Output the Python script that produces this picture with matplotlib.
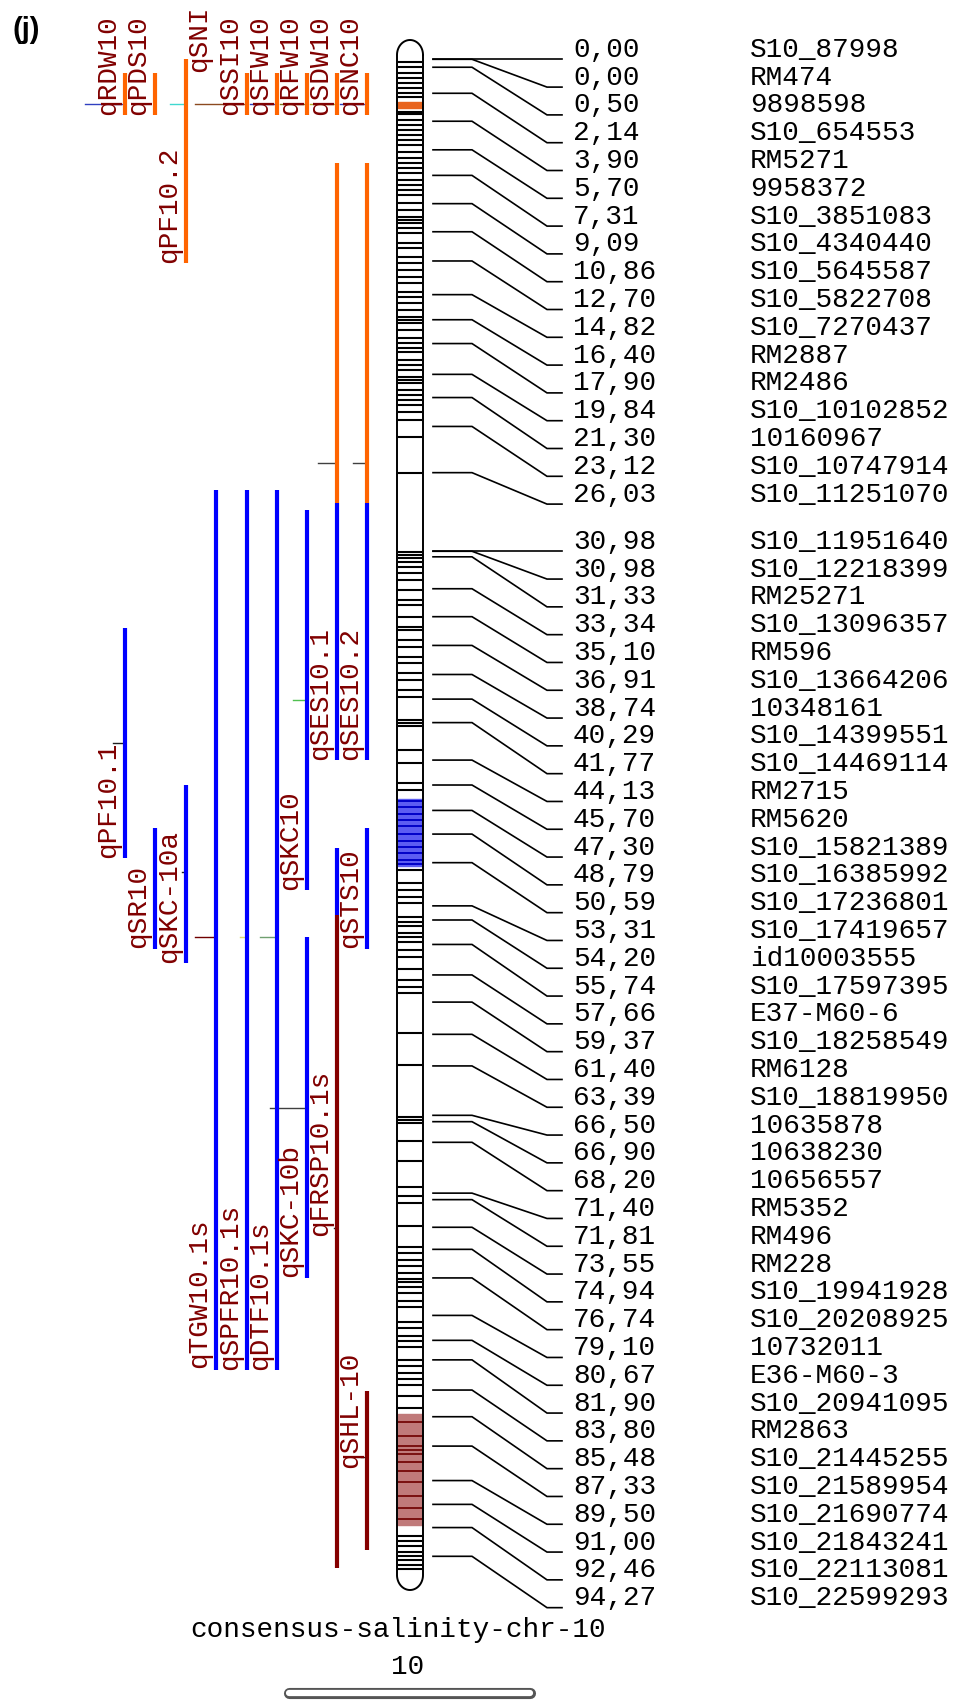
import matplotlib
matplotlib.use("Agg")
import matplotlib.pyplot as plt
import numpy as np

# ---- marker map (cM) ----
marker_cm = [0.00, 0.00, 0.50, 2.14, 3.90, 5.70, 7.31, 9.09, 10.86, 12.70,
             14.82, 16.40, 17.90, 19.84, 21.30, 23.12, 26.03, 30.98, 30.98, 31.33,
             33.34, 35.10, 36.91, 38.74, 40.29, 41.77, 44.13, 45.70, 47.30, 48.79,
             50.59, 53.31, 54.20, 55.74, 57.66, 59.37, 61.40, 63.39, 66.50, 66.90,
             68.20, 71.40, 71.81, 73.55, 74.94, 76.74, 79.10, 80.67, 81.90, 83.80,
             85.48, 87.33, 89.50, 91.00, 92.46, 94.27]
marker_names = ["S10_87998", "RM474", "9898598", "S10_654553", "RM5271", "9958372",
                "S10_3851083", "S10_4340440", "S10_5645587", "S10_5822708", "S10_7270437",
                "RM2887", "RM2486", "S10_10102852", "10160967", "S10_10747914",
                "S10_11251070", "S10_11951640", "S10_12218399", "RM25271", "S10_13096357",
                "RM596", "S10_13664206", "10348161", "S10_14399551", "S10_14469114",
                "RM2715", "RM5620", "S10_15821389", "S10_16385992", "S10_17236801",
                "S10_17419657", "id10003555", "S10_17597395", "E37-M60-6", "S10_18258549",
                "RM6128", "S10_18819950", "10635878", "10638230", "10656557", "RM5352",
                "RM496", "RM228", "S10_19941928", "S10_20208925", "10732011", "E36-M60-3",
                "S10_20941095", "RM2863", "S10_21445255", "S10_21589954", "S10_21690774",
                "S10_21843241", "S10_22113081", "S10_22599293"]

# ---- chromosome bands (cM) ----
band_cm = [0.15, 0.46, 0.88, 1.19, 1.51, 1.83, 2.14, 2.35, 3.3, 3.45, 3.82, 4.14, 4.45,
           4.77, 5.08, 5.4, 5.82, 6.23, 6.55, 6.87, 7.19, 7.6, 7.92, 8.23, 8.55, 9.07,
           9.49, 9.9, 10.1, 10.3, 10.64, 10.96, 11.59, 11.9, 12.43, 12.85, 13.27, 13.69,
           14.1, 14.63, 14.95, 15.37, 15.79, 16.2, 16.4, 16.6,
           17.05, 17.55, 17.87, 18.18, 18.43, 18.94, 19.25, 19.57, 20.01, 20.2, 20.39,
           20.83, 21.14, 21.46, 21.78, 22.22, 22.72, 23.79, 26.05,
           31.03, 31.22, 31.41, 31.66, 31.97, 32.35, 32.79, 33.42, 34.05, 34.37, 35.12,
           35.75, 35.94, 36.57, 37.01, 37.64, 38.01, 38.64, 39.08, 39.71, 40.15,
           41.6, 41.8, 42.0, 43.5, 44.3, 45.6, 46.0,
           51.05, 51.9, 52.3, 52.75, 53.1, 54.0, 54.3, 54.6, 55.0, 55.3, 55.6, 56.1,
           56.5, 57.3, 57.98, 58.4, 58.8,
           61.3, 63.3, 66.6, 66.8, 67.0, 68.1, 69.4, 71.0, 71.6, 72.0, 73.5, 74.8, 75.2,
           75.6, 76.0, 76.4, 76.8, 77.0, 77.3, 77.7, 78.2, 78.6, 79.5, 79.9, 80.4, 80.7,
           81.1, 81.9, 82.3, 82.7, 83.1, 83.5, 84.2, 84.9,
           93.0, 93.3, 93.6, 94.0, 94.27, 94.5, 94.8, 95.1]
orange_zone = (2.67, 3.09)
blue_zone = (46.6, 50.8)
blue_lines = [46.7, 47.1, 47.5, 47.9, 48.3, 48.8, 49.2, 49.6, 50.0, 50.4, 50.7]
red_zone = (85.3, 92.3)
red_lines = [85.8, 86.7, 87.3, 87.6, 87.8, 88.3, 88.9, 89.6, 90.5, 91.2, 91.9]

# ---- QTL intervals ----
qtl_names = ["qRDW10", "qPDS10", "qPF10.2", "qSSI10", "qSFW10", "qRFW10", "qSDW10",
             "qSNC10", "", "", "qSES10.1", "qSES10.2", "qTGW10.1s", "qSPFR10.1s",
             "qDTF10.1s", "qSKC10", "qSKC-10b", "qSTS10", "", "qFRSP10.1s", "qSHL-10",
             "qPF10.1", "qSR10", "qSKC-10a"]
qtl_col = [0, 1, 2, 4, 5, 6, 7, 8, 7, 8, 7, 8, 3, 4, 5, 6, 6, 8, 7, 7, 8, 0, 1, 2]
qtl_start = [0.86, 0.86, 0.0, 0.86, 0.86, 0.86, 0.86, 0.86, 6.54, 6.54, 27.94, 27.94,
             27.13, 27.13, 27.13, 28.38, 55.27, 48.41, 49.67, 53.88, 83.87, 35.81,
             48.41, 45.70]
qtl_end = [3.51, 3.51, 12.83, 3.51, 3.51, 3.51, 3.51, 3.51, 27.94, 27.94, 44.13, 44.13,
           82.54, 82.54, 82.54, 52.31, 76.74, 56.0, 53.88, 95.0, 93.87, 50.30, 56.0, 56.9]
qtl_kind = ["o", "o", "o", "o", "o", "o", "o", "o", "o", "o", "b", "b", "b", "b", "b",
            "b", "b", "b", "b", "r", "r", "b", "b", "b"]
qtl_label_end = [3.51, 3.51, 12.83, 3.51, 3.51, 3.51, 3.51, 3.51, None, None, 44.13,
                 44.13, 82.4, 82.54, 82.54, 52.31, 76.7, 55.96, None, 74.1, 88.7,
                 50.30, 55.96, 56.9]
qtl_peak = [2.82, None, 2.82, 2.82, 2.82, 2.82, 2.82, 2.82, 25.4, 25.4, None, None,
            55.27, 55.27, 55.27, 40.35, 66.04, None, None, 73.6, 88.0, 43.05, None, 51.2]
extra_label = ("qSNI", 3, 0.8)

# ---- layout / style ----
PX_CM = 15.88
Y0 = 59.3
col_x = [125, 155, 186, 216, 247, 277, 307, 337, 367]
kind_color = {"o": "#ff6400", "b": "#0000ff", "r": "#850000"}
peak_color = ["#3040c0", None, "#40d8d0", "#8b4a20", "#3040c0", "#808020", "#b0b030",
              "#3040c0", "#404040", "#404040", None, None, "#700000", "#e0e070",
              "#70a070", "#50c050", "#404040", None, None, "#202020", "#202020",
              "#202020", None, "#202020"]
peak_len = [40, 0, 16, 52, 27, 27, 27, 27, 19, 14, 0, 0, 21, 7, 17, 14, 37, 0, 0, 3,
            6, 12, 0, 4]
label_col = "#800000"
mono = "Liberation Mono"
fs = 20


def cm(ypx):
    return (ypx - Y0) / PX_CM


fig = plt.figure(figsize=(9.65, 17.03), dpi=100)
ax = fig.add_axes([0, 0, 1, 1])
ax.set_xlim(0, 965)
ax.set_ylim(cm(1703), cm(0))
ax.axis("off")

# chromosome body
cx, r = 410, 13
t = np.linspace(0, np.pi, 40)
xs = np.concatenate([cx + r * np.cos(t), [397, 397], cx - r * np.cos(t), [423, 423]])
ys = np.concatenate([cm(55 - 15 * np.sin(t)), [cm(55), cm(1575)],
                     cm(1575 + 15 * np.sin(t)), [cm(1575), cm(55)]])
ax.fill(xs, ys, facecolor="white", edgecolor="none", zorder=1)
ax.fill_between([398, 422], orange_zone[0], orange_zone[1], color="#e8641e", zorder=2)
ax.fill_between([398, 422], blue_zone[0], blue_zone[1], color="#5c5cf2", zorder=2)
ax.fill_between([398, 422], red_zone[0], red_zone[1], color="#c07a7a", zorder=2)
ax.hlines(band_cm, 398, 422, color="black", lw=1.5, zorder=3)
ax.hlines(blue_lines, 398, 422, color="#0000c8", lw=1.4, zorder=3)
ax.hlines(red_lines, 398, 422, color="#7a1010", lw=1.4, zorder=3)
ax.plot(xs, ys, color="black", lw=1.4, zorder=4)

# marker connectors and labels
gap = 27.8 / PX_CM
lab = []
for v in marker_cm:
    lab.append(v if not lab else max(v, lab[-1] + gap))
for v, p, name in zip(marker_cm, lab, marker_names):
    ax.plot([433, 472, 547, 562], [v, v, p, p], color="black", lw=1.2,
            solid_joinstyle="miter")
    txt = f"{v:.2f}".replace(".", ",")
    ax.text(573, p - 2.5 / PX_CM, txt, va="baseline", ha="left", family=mono,
            fontsize=fs, color="black")
    ax.text(750, p - 2.5 / PX_CM, name, va="baseline", ha="left", family=mono,
            fontsize=fs, color="black")

# QTL bars
for i, name in enumerate(qtl_names):
    x = col_x[qtl_col[i]]
    ax.plot([x, x], [qtl_start[i], qtl_end[i]], color=kind_color[qtl_kind[i]],
            lw=3.0, solid_capstyle="butt", zorder=5)
    if qtl_peak[i] is not None and peak_color[i]:
        ax.plot([x - peak_len[i], x], [qtl_peak[i], qtl_peak[i]],
                color=peak_color[i], lw=1.0, zorder=4)
    if name:
        ax.text(x - 4, qtl_label_end[i], name, rotation=90, ha="right", va="bottom",
                family=mono, fontsize=fs, color=label_col, zorder=6)
ax.text(col_x[extra_label[1]] - 4, extra_label[2], extra_label[0], rotation=90,
        ha="right", va="bottom", family=mono, fontsize=fs, color=label_col)

# chromosome name, scale, panel tag
ax.text(190, cm(1630), "consensus-salinity-chr-10", ha="left", va="center",
        family=mono, fontsize=fs, color="black")
ax.text(408, cm(1667), "10", ha="center", va="center", family=mono, fontsize=fs)
ax.plot([289, 530], [cm(1693), cm(1693)], color="#555555", lw=8,
        solid_capstyle="round")
ax.plot([289, 530], [cm(1693), cm(1693)], color="white", lw=4.5,
        solid_capstyle="round")
ax.text(12, cm(30), "(j)", ha="left", va="center", family="Liberation Sans",
        fontweight="bold", fontsize=21)

fig.savefig("out.png", dpi=100)
